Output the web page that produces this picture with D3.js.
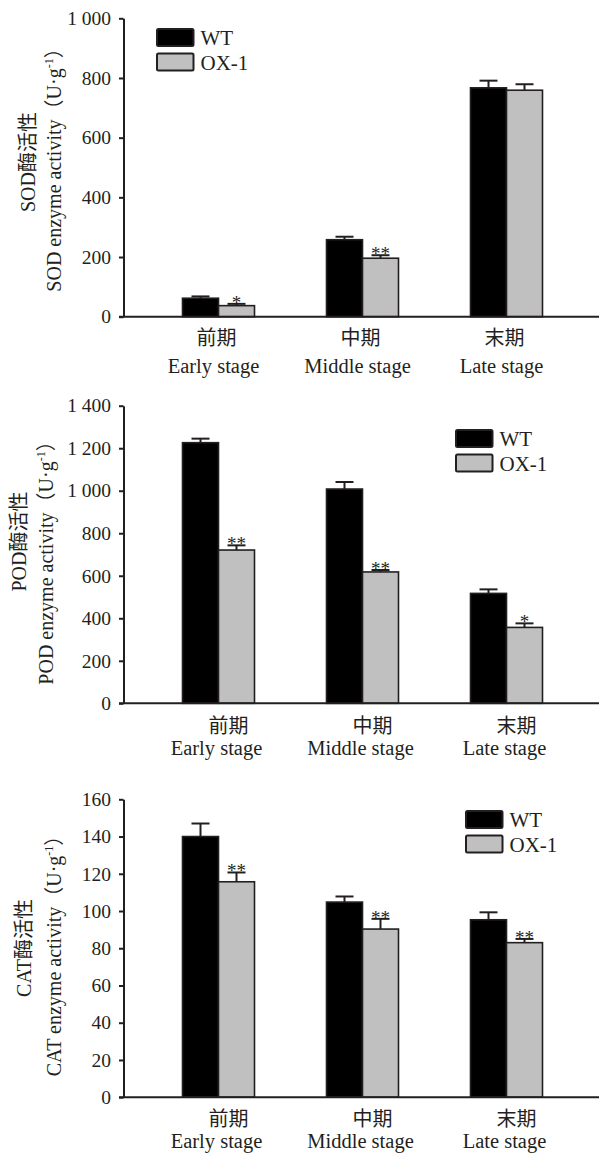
<!DOCTYPE html>
<html>
<head>
<meta charset="utf-8">
<script src="https://cdn.jsdelivr.net/npm/d3@7"></script>
<style>
  html, body { margin: 0; padding: 0; background: #fff; }
  svg { display: block; }
  text { fill: #231f20; }
</style>
</head>
<body>
<svg id="chart" width="599" height="1156"></svg>
<script>
// Stage categories (Chinese / English)
const stagesZh = ["前期", "中期", "末期"];
const stagesEn = ["Early stage", "Middle stage", "Late stage"];
const seriesNames = ["WT", "OX-1"];

// SOD activity (U·g-1)
const sodWT = [62, 258, 767];
const sodWTErr = [6, 10, 24];
const sodOX = [37, 196, 759];
const sodOXErr = [6, 10, 20];
const sodSig = ["*", "**", ""];
const sodTicks = [0, 200, 400, 600, 800, 1000];

// POD activity (U·g-1)
const podWT = [1226, 1008, 517];
const podWTErr = [19, 33, 19];
const podOX = [721, 618, 357];
const podOXErr = [22, 9, 19];
const podSig = ["**", "**", "*"];
const podTicks = [0, 200, 400, 600, 800, 1000, 1200, 1400];

// CAT activity (U·g-1)
const catWT = [140, 104.8, 95.3];
const catWTErr = [7, 3, 4];
const catOX = [115.7, 90.3, 83];
const catOXErr = [5, 5.5, 2];
const catSig = ["**", "**", "**"];
const catTicks = [0, 20, 40, 60, 80, 100, 120, 140, 160];

const INK = "#231f20";
const FILLS = ["#000000", "#c0c0c0"];
const SERIF = "'Liberation Serif', 'Times New Roman', 'Noto Sans CJK SC', serif";

const svg = d3.select("#chart");

const axisX = 123.5;
const x = d3.scaleBand().domain(stagesZh).range([146.5, 578.5]).paddingInner(0.5).paddingOuter(0.25);
const xs = d3.scaleBand().domain(seriesNames).range([0, x.bandwidth()]);

const fmt = v => d3.format(",")(v).replace(/,/g, " ");

function drawPanel(p) {
  const g = svg.append("g");
  const y = d3.scaleLinear().domain([0, p.ticks[p.ticks.length - 1]]).range([p.y0, p.y1]);

  // bars grouped by stage
  const rows = stagesZh.map((s, i) => ({
    stage: s,
    vals: [
      { name: seriesNames[0], v: p.wt[i], e: p.wtErr[i], sig: "" },
      { name: seriesNames[1], v: p.ox[i], e: p.oxErr[i], sig: p.sig[i] }
    ]
  }));
  const grp = g.selectAll("g.stage").data(rows).join("g")
    .attr("class", "stage")
    .attr("transform", d => `translate(${x(d.stage)},0)`);

  const bar = grp.selectAll("g.bar").data(d => d.vals).join("g").attr("class", "bar");

  // error bars (upper whisker only)
  bar.append("line")
    .attr("x1", d => xs(d.name) + xs.bandwidth() / 2)
    .attr("x2", d => xs(d.name) + xs.bandwidth() / 2)
    .attr("y1", d => y(d.v))
    .attr("y2", d => y(d.v + d.e))
    .attr("stroke", INK).attr("stroke-width", 2);
  bar.append("line")
    .attr("x1", d => xs(d.name) + xs.bandwidth() / 2 - 9)
    .attr("x2", d => xs(d.name) + xs.bandwidth() / 2 + 9)
    .attr("y1", d => y(d.v + d.e))
    .attr("y2", d => y(d.v + d.e))
    .attr("stroke", INK).attr("stroke-width", 2);

  bar.append("rect")
    .attr("x", d => xs(d.name))
    .attr("width", xs.bandwidth())
    .attr("y", d => y(d.v))
    .attr("height", d => y(0) - y(d.v))
    .attr("fill", (d, i) => FILLS[i])
    .attr("stroke", INK).attr("stroke-width", 1.6);

  // significance marks
  bar.filter(d => d.sig).append("text")
    .attr("x", d => xs(d.name) + xs.bandwidth() / 2)
    .attr("y", d => y(d.v + d.e) + 5)
    .attr("text-anchor", "middle")
    .style("font-family", SERIF).style("font-size", "19px")
    .text(d => d.sig);

  // y axis
  const ya = g.append("g").attr("transform", `translate(${axisX},0)`)
    .call(d3.axisLeft(y).tickValues(p.ticks).tickSize(4.5).tickSizeOuter(0).tickPadding(8).tickFormat(fmt));
  ya.select(".domain").attr("stroke", INK).attr("stroke-width", 2);
  ya.selectAll(".tick line").attr("stroke", INK).attr("stroke-width", 2);
  ya.selectAll(".tick text").style("font-family", SERIF).style("font-size", "19.5px").attr("fill", INK);

  // x axis baseline
  g.append("line")
    .attr("x1", axisX - 4.5).attr("x2", 599)
    .attr("y1", y(0)).attr("y2", y(0))
    .attr("stroke", INK).attr("stroke-width", 2);

  // category labels
  g.selectAll("text.zh").data(stagesZh).join("text").attr("class", "zh")
    .attr("x", d => x(d) + x.bandwidth() / 2 + p.zhDx)
    .attr("y", y(0) + p.zhDy)
    .attr("text-anchor", "middle")
    .style("font-family", "'Noto Sans CJK SC'").style("font-size", "20px")
    .text(d => d);
  g.selectAll("text.en").data(stagesEn).join("text").attr("class", "en")
    .attr("x", (d, i) => x(stagesZh[i]) + x.bandwidth() / 2 + p.enDx)
    .attr("y", y(0) + p.enDy)
    .attr("text-anchor", "middle")
    .style("font-family", SERIF).style("font-size", "20.5px")
    .text(d => d);

  // y axis title (two lines)
  g.append("text")
    .attr("transform", `translate(${p.t1x},${p.t1y}) rotate(-90)`)
    .attr("text-anchor", "middle")
    .style("font-family", SERIF).style("font-size", "20px")
    .text(p.titleZh);
  const t2 = g.append("text")
    .attr("transform", `translate(${p.t2x},${p.t2y}) rotate(-90)`)
    .attr("text-anchor", "middle")
    .style("font-family", SERIF).style("font-size", "20px");
  t2.append("tspan").text(p.titleEn);
  t2.append("tspan").style("font-family", "'Noto Sans CJK SC'").text("（");
  t2.append("tspan").text("U·g");
  t2.append("tspan").attr("dy", -8).style("font-size", "12px").text("-1");
  t2.append("tspan").attr("dy", 8).style("font-family", "'Noto Sans CJK SC'").text("）");

  // legend
  const lg = g.append("g").attr("transform", `translate(${p.lx},${p.ly})`);
  seriesNames.forEach((s, i) => {
    lg.append("rect")
      .attr("x", 0).attr("y", i * 24.5)
      .attr("width", 36.5).attr("height", 17)
      .attr("rx", 1.5)
      .attr("fill", FILLS[i]).attr("stroke", INK).attr("stroke-width", 2);
    lg.append("text")
      .attr("x", 43.5).attr("y", i * 24.5 + 16)
      .style("font-family", SERIF).style("font-size", "21px")
      .text(s);
  });
}

drawPanel({
  wt: sodWT, wtErr: sodWTErr, ox: sodOX, oxErr: sodOXErr, sig: sodSig, ticks: sodTicks,
  y0: 316.7, y1: 18.3,
  zhDx: -2, zhDy: 28.5, enDx: -5, enDy: 56,
  titleZh: "SOD酶活性", titleEn: "SOD enzyme activity",
  t1x: 34.5, t1y: 162, t2x: 61, t2y: 165,
  lx: 157, ly: 29
});

drawPanel({
  wt: podWT, wtErr: podWTErr, ox: podOX, oxErr: podOXErr, sig: podSig, ticks: podTicks,
  y0: 703.3, y1: 405.7,
  zhDx: 10, zhDy: 30, enDx: -2, enDy: 52,
  titleZh: "POD酶活性", titleEn: "POD enzyme activity",
  t1x: 26, t1y: 541.5, t2x: 53, t2y: 558,
  lx: 456, ly: 430
});

drawPanel({
  wt: catWT, wtErr: catWTErr, ox: catOX, oxErr: catOXErr, sig: catSig, ticks: catTicks,
  y0: 1097.2, y1: 799.3,
  zhDx: 10, zhDy: 29, enDx: -2, enDy: 51,
  titleZh: "CAT酶活性", titleEn: "CAT enzyme activity",
  t1x: 31, t1y: 948, t2x: 61, t2y: 951,
  lx: 466, ly: 811
});
</script>
</body>
</html>
